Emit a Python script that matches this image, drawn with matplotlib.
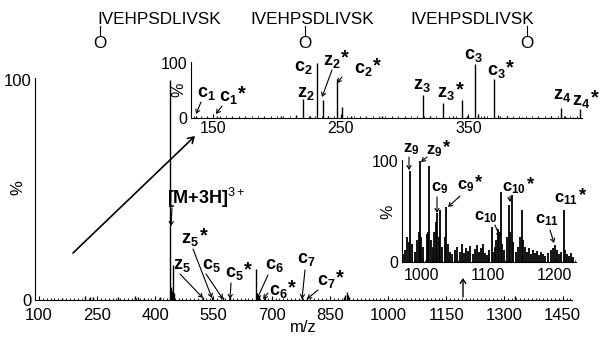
import matplotlib
matplotlib.use("Agg")
import matplotlib.pyplot as plt
from matplotlib.ticker import MultipleLocator
from matplotlib.transforms import Affine2D

plt.rcParams['font.family'] = ['Liberation Sans', 'DejaVu Sans']
plt.rcParams['mathtext.fontset'] = 'custom'
plt.rcParams['mathtext.rm'] = 'Liberation Sans'
plt.rcParams['mathtext.bf'] = 'Liberation Sans:bold'
plt.rcParams['mathtext.it'] = 'Liberation Sans:italic'

W, H = 600, 342

# ---- data: full spectrum (m/z, relative intensity %)
main_mz = [160, 218, 231, 239, 303, 347, 355, 371, 412, 437.6, 439.5, 442, 446.6, 449,
           522, 546, 574, 592, 659, 661, 664, 667, 682, 700, 778, 791,
           886, 890, 893, 896, 900, 1327]
main_int = [1, 2, 1.5, 1.5, 1.5, 2, 1.5, 1, 1.5, 100, 6, 4, 16, 3,
            1.2, 1.2, 1.2, 1.2, 14, 3, 2.5, 2, 1.5, 1, 1.2, 1.2,
            1.5, 2.5, 3.5, 2.5, 1.5, 2]

# ---- data: zoom 130-440
low_mz = [136.6, 145, 153, 165, 175, 190, 203, 215, 220, 226, 231, 236, 240, 247, 251,
          258, 270, 282, 290, 300, 314.6, 320, 330, 338, 345, 349, 355, 358, 362,
          370.5, 373, 380, 392, 405, 415, 423, 426, 432, 438]
low_int = [4, 2, 3, 2, 2, 2, 3, 6, 34, 4, 100, 32, 3, 70, 20,
           3, 2, 3, 2, 2, 41, 3, 27, 3, 32, 3, 98, 8, 3,
           71, 6, 3, 2, 2, 3, 18, 4, 2, 16]

# ---- data: zoom 970-1232
high_mz = [972, 975, 978, 980, 982, 985, 989, 993, 995, 997, 999, 1002, 1007, 1009, 1010.5,
           1013, 1016, 1018, 1020.6, 1023, 1025, 1027, 1030, 1035, 1037, 1039, 1042,
           1046, 1050, 1053, 1057, 1060, 1063, 1066, 1070, 1073, 1077, 1080, 1083, 1086,
           1089, 1092, 1095, 1098, 1101, 1104.8, 1107, 1110, 1112, 1114.7, 1116, 1118.8,
           1121, 1124, 1128, 1130.8, 1133, 1134.9, 1137, 1141, 1145, 1148, 1150, 1152,
           1155, 1158, 1161, 1164, 1167, 1170, 1173, 1176, 1179, 1182, 1186, 1190, 1194,
           1197, 1200, 1203, 1206, 1210, 1213.5, 1216, 1219, 1222, 1225, 1228]
high_int = [8, 12, 25, 20, 90, 18, 10, 22, 30, 100, 25, 15, 28, 30, 95,
            22, 15, 30, 40, 49, 25, 51, 15, 25, 54, 18, 10,
            8, 12, 15, 10, 18, 9, 14, 11, 16, 8, 13, 17, 10,
            14, 18, 9, 7, 12, 35, 10, 15, 22, 33, 30, 69,
            18, 12, 25, 56, 30, 66, 20, 10, 15, 25, 51, 22,
            15, 10, 14, 8, 12, 9, 11, 7, 10, 8, 6, 9, 12,
            14, 17, 12, 8, 10, 51, 12, 8, 6, 9, 5]

main_xticks = [100, 250, 400, 550, 700, 850, 1000, 1150, 1300, 1450]
low_xticks = [150, 250, 350]
high_xticks = [1000, 1100, 1200]

fig = plt.figure(figsize=(W / 100, H / 100), dpi=100)
pix = Affine2D().scale(1 / W, -1 / H).translate(0, 1) + fig.transFigure
renderer = fig.canvas.get_renderer()


def axes_px(x0, y0, x1, y1):
    return fig.add_axes([x0 / W, 1 - y1 / H, (x1 - x0) / W, (y1 - y0) / H])


def style(ax, fs, minor, pad):
    for s in ['top', 'right']:
        ax.spines[s].set_visible(False)
    ax.set_ylim(0, 101)
    ax.set_yticks([0, 100])
    ax.xaxis.set_minor_locator(MultipleLocator(minor))
    ax.tick_params(axis='x', which='major', direction='in', length=3, labelsize=fs, pad=pad)
    ax.tick_params(axis='x', which='minor', direction='in', length=1.5)
    ax.tick_params(axis='y', direction='in', length=0, labelsize=fs, pad=2.5)
    ax.patch.set_alpha(0)


ax = axes_px(35, 78, 572, 300)
ax.vlines(main_mz, 0, main_int, color='black', lw=1)
ax.set_xlim(90, 1474)
ax.set_xticks(main_xticks)
style(ax, 12, 10, 5.5)
ax.set_xlabel('m/z', fontsize=12, labelpad=-2)
fig.text(18, 188, '%', transform=pix, fontsize=12, rotation=90, ha='center', va='center')

ax1 = axes_px(191, 62, 582, 118)
ax1.vlines(low_mz, 0, low_int, color='black', lw=1)
ax1.set_xlim(132.5, 439.2)
ax1.set_xticks(low_xticks)
style(ax1, 11.5, 5, 2.5)
fig.text(179, 90, '%', transform=pix, fontsize=11.5, rotation=90, ha='center', va='center')

ax3 = axes_px(402, 160, 576, 262)
ax3.vlines(high_mz, 0, high_int, color='black', lw=1.3)
ax3.set_xlim(970, 1232)
ax3.set_xticks(high_xticks)
style(ax3, 11.5, 5, 4)
fig.text(388, 212, '%', transform=pix, fontsize=11.5, rotation=90, ha='center', va='center')


def arrow(a, b, lw=0.8, hl=2.5, hw=1.5):
    fig.add_artist(matplotlib.patches.FancyArrowPatch(
        a, b, transform=pix, arrowstyle='->,head_length=%g,head_width=%g' % (hl, hw),
        lw=lw, color='black', shrinkA=0, shrinkB=0))


def label(s, n, x, y, star=False, fs=13, arr=None):
    t = fig.text(x, y, r'$\mathbf{%s}_{\mathbf{%s}}$' % (s, n), transform=pix,
                 fontsize=fs, ha='center', va='center')
    if star:
        bb = t.get_window_extent(renderer)
        top = H - bb.y1
        fig.text(bb.x1 + 0.5, top + 0.55 * fs * 100 / 72, '*', transform=pix,
                 fontsize=fs * 1.1, fontweight='bold', ha='left', va='baseline')
    if arr:
        arrow(*arr)


# peptide structures
for x0, xo in [(97, 100), (250, 305), (410, 527)]:
    fig.text(x0, 19, 'IVEHPSDLIVSK', transform=pix, fontsize=12.3, ha='left', va='center')
    fig.add_artist(matplotlib.lines.Line2D([xo, xo], [26, 35], transform=pix, color='black', lw=0.8))
    fig.text(xo, 43, 'O', transform=pix, fontsize=12.3, ha='center', va='center')

# main spectrum labels
fig.text(206, 198, r'$\mathbf{[M{+}3H]}^{\mathrm{3+}}$', transform=pix, fontsize=13,
         ha='center', va='center')
arrow((172, 208), (171, 226))
label('z', 5, 190, 240, star=True, arr=((193, 249), (212, 298)))
label('z', 5, 182, 265, arr=((180, 274), (203, 298)))
label('c', 5, 211, 265, arr=((206, 274), (223, 299)))
label('c', 5, 234, 274, star=True, arr=((231, 283), (230, 299)))
label('c', 6, 274, 265, arr=((268, 275), (257, 299)))
label('c', 6, 278, 292, star=True, arr=((268, 293), (263, 299)))
label('c', 7, 306, 260, arr=((305, 270), (302, 299)))
label('c', 7, 326, 282, star=True, arr=((318, 290), (307, 299)))

# low-mass zoom labels
label('c', 1, 206, 94, arr=((201, 102), (196, 114)))
label('c', 1, 228, 98, star=True, arr=((222, 106), (216, 114)))
label('c', 2, 303, 67)
label('z', 2, 306, 93)
label('z', 2, 332, 62, star=True, arr=((332, 70), (322, 97)))
label('c', 2, 363, 70, star=True, arr=((342, 77), (337, 83)))
label('z', 3, 422, 86)
label('z', 3, 446, 94, star=True)
label('c', 3, 473, 56)
label('c', 3, 496, 72, star=True)
label('z', 4, 562, 95)
label('z', 4, 581, 102, star=True)

# high-mass zoom labels
label('z', 9, 411, 149, fs=12, arr=((409, 157), (409, 170)))
label('z', 9, 434, 151, star=True, fs=12, arr=((427, 157), (421, 162)))
label('c', 9, 440, 188, fs=12, arr=((437, 197), (437, 213)))
label('c', 9, 466, 186, star=True, fs=12, arr=((460, 196), (448, 207)))
label('c', 10, 486, 217, fs=12, arr=((495, 225), (500, 237)))
label('c', 10, 514, 188, star=True, fs=12, arr=((510, 196), (510, 202)))
label('c', 11, 547, 220, fs=12, arr=((550, 230), (554, 243)))
label('c', 11, 566, 199, star=True, fs=12)

# guide arrows
arrow((73, 253), (195, 136), lw=1.2, hl=4, hw=2.5)
arrow((463, 297), (463, 278), lw=1, hl=3, hw=2)

fig.savefig('out.png', dpi=100)
